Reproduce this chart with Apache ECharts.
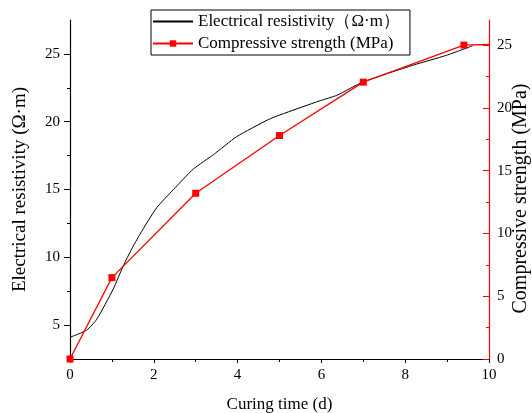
<!DOCTYPE html>
<html>
<head>
<meta charset="utf-8">
<script src="https://cdn.jsdelivr.net/npm/echarts@6/dist/echarts.min.js"></script>
<style>
  html, body { margin: 0; padding: 0; background: #fff; }
  #main { width: 532px; height: 413px; }
</style>
</head>
<body>
<div id="main"></div>
<script>
// 电阻率曲线 (curing time d, Ω·m)
var resistTime  = [0, 0.4, 0.64, 1.03, 1.27, 1.47, 1.67, 2.07, 2.47, 2.94, 3.42, 3.98, 4.73, 5.01, 5.97, 6.37, 7.0, 8.19, 8.99, 9.61];
var resistValue = [4.1, 4.63, 5.44, 7.65, 9.36, 10.6, 11.7, 13.66, 15.0, 16.5, 17.56, 18.9, 20.15, 20.5, 21.55, 21.95, 22.94, 24.17, 24.9, 25.6];

// 抗压强度 (MPa)
var strengthTime  = [0, 1, 3, 5, 7, 9.4, 10];
var strengthValue = [0, 6.48, 13.2, 17.8, 22.05, 25.0, 25.05];

var xTicks = [0, 2, 4, 6, 8, 10];
var leftTicks = [5, 10, 15, 20, 25];
var leftMinor = [7.5, 12.5, 17.5, 22.5];
var rightTicks = [0, 5, 10, 15, 20, 25];
var rightMinor = [2.5, 7.5, 12.5, 17.5, 22.5];

var font = '"Liberation Serif", "Times New Roman", serif';

var resistData = resistTime.map(function (t, i) { return [t, resistValue[i]]; });
var strengthData = strengthTime.map(function (t, i) {
    var p = { value: [t, strengthValue[i]] };
    if (i === strengthTime.length - 1) p.symbol = 'none';
    return p;
});

var myChart = echarts.init(document.getElementById('main'));

var option = {
    animation: false,
    textStyle: { fontFamily: font },
    grid: { left: 70, right: 43, top: 20, bottom: 54, outerBoundsMode: 'none', containLabel: false },
    legend: {
        orient: 'vertical',
        left: 151,
        top: 10,
        borderColor: '#000',
        borderWidth: 1,
        borderRadius: 0,
        padding: [3, 10, 3, 1],
        itemGap: 5,
        itemWidth: 40,
        itemHeight: 8,
        textStyle: { fontFamily: font, fontSize: 17, color: '#000' },
        data: [
            { name: 'Electrical resistivity（Ω·m）', itemStyle: { opacity: 0 } },
            { name: 'Compressive strength (MPa)' }
        ]
    },
    xAxis: {
        type: 'value',
        min: 0,
        max: 10,
        interval: 2,
        name: 'Curing time (d)',
        nameLocation: 'middle',
        nameGap: 37,
        nameMoveOverlap: false,
        nameTextStyle: { fontFamily: font, fontSize: 17, color: '#000' },
        axisLine: { lineStyle: { color: '#000', width: 1.2 } },
        axisTick: { length: 4, lineStyle: { color: '#000' } },
        minorTick: { show: true, splitNumber: 2, length: 3, lineStyle: { color: '#000' } },
        axisLabel: { margin: 9, fontFamily: font, fontSize: 15, color: '#000',
            customValues: xTicks },
        splitLine: { show: false }
    },
    yAxis: [
        {
            type: 'value',
            position: 'left',
            min: 2.5,
            max: 27.5,
            name: 'Electrical resistivity (Ω·m)',
            nameLocation: 'middle',
            nameGap: 40,
            nameMoveOverlap: false,
            nameTextStyle: { fontFamily: font, fontSize: 19, color: '#000' },
            axisLine: { show: true, lineStyle: { color: '#000', width: 1.2 } },
            axisTick: { show: true, length: 6, customValues: leftTicks, lineStyle: { color: '#000' } },
            axisLabel: { margin: 10, fontFamily: font, fontSize: 15, color: '#000', customValues: leftTicks },
            splitLine: { show: false }
        },
        {
            type: 'value',
            position: 'right',
            min: 0,
            max: 27,
            name: 'Compressive strength (MPa)',
            nameLocation: 'middle',
            nameRotate: 90,
            nameGap: 22,
            nameMoveOverlap: false,
            nameTextStyle: { fontFamily: font, fontSize: 20, color: '#000', padding: [0, 18, 0, 0] },
            axisLine: { show: true, lineStyle: { color: '#ff0000', width: 1.2 } },
            axisTick: { show: true, inside: true, length: 6, customValues: rightTicks, lineStyle: { color: '#ff0000' } },
            axisLabel: { margin: 8, fontFamily: font, fontSize: 15, color: '#000', customValues: rightTicks },
            splitLine: { show: false }
        },
        {
            // 左轴次刻度
            type: 'value',
            position: 'left',
            min: 2.5,
            max: 27.5,
            axisLine: { show: false },
            axisTick: { show: true, length: 3, customValues: leftMinor, lineStyle: { color: '#000' } },
            axisLabel: { show: false },
            splitLine: { show: false }
        },
        {
            // 右轴次刻度
            type: 'value',
            position: 'right',
            min: 0,
            max: 27,
            axisLine: { show: false },
            axisTick: { show: true, inside: true, length: 3, customValues: rightMinor, lineStyle: { color: '#ff0000' } },
            axisLabel: { show: false },
            splitLine: { show: false }
        }
    ],
    series: [
        {
            name: 'Electrical resistivity（Ω·m）',
            type: 'line',
            yAxisIndex: 0,
            symbol: 'none',
            smooth: 0.2,
            color: '#000',
            lineStyle: { color: '#000', width: 1 },
            data: resistData
        },
        {
            name: 'Compressive strength (MPa)',
            type: 'line',
            yAxisIndex: 1,
            symbol: 'rect',
            symbolSize: 7,
            color: '#ff0000',
            lineStyle: { color: '#ff0000', width: 1.3 },
            itemStyle: { color: '#ff0000' },
            data: strengthData
        }
    ]
};

myChart.setOption(option);

window.addEventListener('resize', function () {
    myChart.resize();
});
</script>
</body>
</html>
